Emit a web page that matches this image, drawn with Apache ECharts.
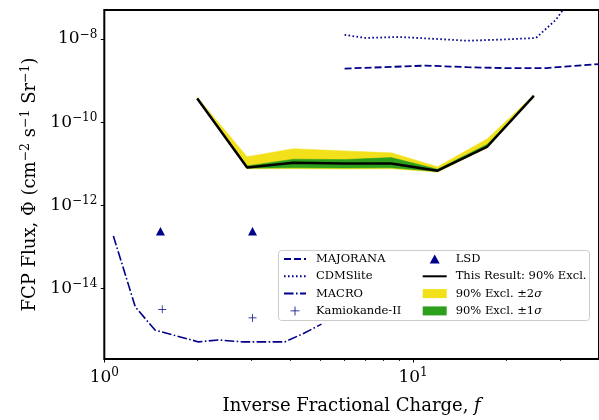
<!DOCTYPE html>
<html><head><meta charset="utf-8">
<script src="https://cdn.jsdelivr.net/npm/echarts@6/dist/echarts.min.js"></script>
<style>html,body{margin:0;padding:0;background:#fff}#c{width:599px;height:420px}</style>
</head><body><div id="c"></div>
<script>
// ---- data ----
const resultX      = [2, 2.9, 4.1, 6, 8.5, 12, 17.4, 24.6];
const resultLimit  = [3.7e-10, 8.1e-12, 1.06e-11, 1.02e-11, 1.02e-11, 6.8e-12, 2.6e-11, 4.3e-10];
const band2Hi      = [4.0e-10, 1.48e-11, 2.31e-11, 2.04e-11, 1.83e-11, 8.5e-12, 4.0e-11, 4.5e-10];
const band2Lo      = [3.55e-10, 7.6e-12, 7.6e-12, 7.5e-12, 7.6e-12, 6.3e-12, 2.45e-11, 4.15e-10];
const band1Hi      = [3.8e-10, 8.9e-12, 1.29e-11, 1.26e-11, 1.41e-11, 7.4e-12, 2.95e-11, 4.4e-10];
const band1Lo      = [3.6e-10, 7.8e-12, 8.0e-12, 7.9e-12, 8.0e-12, 6.5e-12, 2.5e-11, 4.2e-10];
const majoranaX    = [6, 8, 11, 15, 20, 27, 40];
const majoranaY    = [1.95e-9, 2.1e-9, 2.3e-9, 2.1e-9, 2.0e-9, 2.0e-9, 2.5e-9];
const cdmsX        = [6, 7, 9, 12, 15, 20, 25, 29, 32];
const cdmsY        = [1.26e-8, 1.06e-8, 1.12e-8, 1.0e-8, 9.1e-9, 9.8e-9, 1.06e-8, 2.9e-8, 8e-8];
const macroX       = [1.07, 1.26, 1.46, 2.02, 2.34, 2.82, 3.84, 4.4, 5.05];
const macroY       = [1.83e-13, 3.6e-15, 1.0e-15, 5.2e-16, 5.8e-16, 5.2e-16, 5.2e-16, 8.2e-16, 1.39e-15];
const lsdX         = [1.52, 3.02];
const lsdY         = [2.4e-13, 2.4e-13];
const kamX         = [1.54, 3.02];
const kamY         = [3.16e-15, 1.96e-15];
const xMajorTicks  = [1, 10];
const xMinorTicks  = [2, 3, 4, 5, 6, 7, 8, 9, 20, 30];
const yTicks       = [1e-14, 1e-12, 1e-10, 1e-8];

const NAVY = '#00008b', YEL = '#f2e01b', GRN = '#2ca01c';
const FONT = 'DejaVu Serif';
const PLUS = 'path://M4.55,0H5.45V4.55H10V5.45H5.45V10H4.55V5.45H0V4.55H4.55Z';
const TRI = 'path://M5,0L10,9L0,9Z';
const zip = (a, b) => a.map((v, i) => [v, b[i]]);

function bandSeries(name, lo, hi, color, z) {
  return {
    name, type: 'custom', z,
    itemStyle: { color },
    data: resultX.map((x, i) => [x, lo[i], hi[i]]),
    encode: { x: 0, y: [1, 2] },
    renderItem(params, api) {
      if (params.dataIndex !== 0) return null;
      const pts = [];
      for (let i = 0; i < resultX.length; i++) pts.push(api.coord([resultX[i], hi[i]]));
      for (let i = resultX.length - 1; i >= 0; i--) pts.push(api.coord([resultX[i], lo[i]]));
      return { type: 'polygon', shape: { points: pts }, style: { fill: color, stroke: color, lineWidth: 0.5 } };
    }
  };
}

function powLabel(v) {
  const e = Math.round(Math.log10(v));
  return '{b|10}{s|' + (e < 0 ? '\u2212' + (-e) : e) + '}';
}
const labelRich = {
  b: { fontFamily: FONT, fontSize: 17, color: '#000' },
  s: { fontFamily: FONT, fontSize: 12, color: '#000', padding: [0, 0, 9, 0] }
};

const xMin = 1, xMax = 40;
const yMin = Math.pow(10, -15.695), yMax = Math.pow(10, -7.302);
const noSym = { itemStyle: { opacity: 0 } };

const chart = echarts.init(document.getElementById('c'), null, { renderer: 'canvas' });
chart.setOption({
  animation: false,
  backgroundColor: '#fff',
  grid: { left: 104.3, right: -1.1, top: 10, bottom: 57.5, show: true, borderColor: '#000', borderWidth: 2, backgroundColor: 'transparent' },
  xAxis: [{
    type: 'log', logBase: 10, min: xMin, max: xMax,
    name: 'Inverse Fractional Charge, {i|f}', nameLocation: 'middle', nameGap: 38,
    nameTextStyle: { fontFamily: FONT, fontSize: 18, color: '#000', rich: { i: { fontFamily: FONT, fontSize: 18, fontStyle: 'italic', color: '#000' } } },
    axisLine: { show: false },
    axisTick: { show: true, inside: false, length: 3.5, lineStyle: { color: '#000', width: 1 }, customValues: xMajorTicks },
    axisLabel: { show: true, margin: 8, formatter: powLabel, rich: labelRich, customValues: xMajorTicks },
    splitLine: { show: false }, minorTick: { show: false }
  }, {
    type: 'log', logBase: 10, min: xMin, max: xMax, position: 'bottom',
    axisLine: { show: false },
    axisTick: { show: true, inside: false, length: 2, lineStyle: { color: '#000', width: 0.8 }, customValues: xMinorTicks },
    axisLabel: { show: false },
    splitLine: { show: false }
  }],
  yAxis: {
    type: 'log', logBase: 10, min: yMin, max: yMax,
    name: '{a|FCP Flux, \u03a6 (cm}{s|\u22122}{a| s}{s|\u22121}{a| Sr}{s|\u22121}{a|)}',
    nameLocation: 'middle', nameGap: 56, nameRotate: 90,
    nameTextStyle: { rich: {
      a: { fontFamily: FONT, fontSize: 18, color: '#000' },
      s: { fontFamily: FONT, fontSize: 12.5, color: '#000', padding: [0, 0, 9, 0] }
    } },
    axisLine: { show: false },
    axisTick: { show: true, inside: false, length: 3.5, lineStyle: { color: '#000', width: 1 }, customValues: yTicks },
    axisLabel: { show: true, margin: 7, formatter: powLabel, rich: labelRich, customValues: yTicks },
    splitLine: { show: false }
  },
  graphic: [{
    type: 'rect', z: 3, shape: { x: 278.5, y: 250.5, width: 311, height: 70, r: 3 },
    style: { fill: 'rgba(255,255,255,0.8)', stroke: '#cccccc', lineWidth: 1 }
  }],
  legend: [{
    z: 5, orient: 'vertical', left: 283, top: 252, padding: 0, itemWidth: 22, itemHeight: 9, itemGap: 3.3,
    textStyle: { fontFamily: FONT, fontSize: 11.5, color: '#000', lineHeight: 14, padding: [0, 0, 0, 5] },
    data: [
      Object.assign({ name: 'MAJORANA' }, noSym),
      Object.assign({ name: 'CDMSlite' }, noSym),
      Object.assign({ name: 'MACRO' }, noSym),
      { name: 'Kamiokande-II', icon: PLUS }
    ]
  }, {
    z: 5, orient: 'vertical', left: 421.7, top: 252, padding: 0, itemWidth: 24, itemHeight: 9, itemGap: 3.3,
    textStyle: { fontFamily: FONT, fontSize: 11.5, color: '#000', lineHeight: 14, padding: [0, 0, 0, 4],
      rich: { i: { fontFamily: FONT, fontSize: 11.5, fontStyle: 'italic', color: '#000' } } },
    formatter(n) { return n.replace('\u03c3', '{i|\u03c3}'); },
    data: [
      { name: 'LSD', icon: TRI },
      Object.assign({ name: 'This Result: 90% Excl.' }, noSym),
      { name: '90% Excl. \u00b12\u03c3', icon: 'rect' }, { name: '90% Excl. \u00b11\u03c3', icon: 'rect' }
    ]
  }],
  series: [
    bandSeries('90% Excl. \u00b12\u03c3', band2Lo, band2Hi, YEL, 2),
    bandSeries('90% Excl. \u00b11\u03c3', band1Lo, band1Hi, GRN, 2.1),
    { name: 'This Result: 90% Excl.', type: 'line', z: 2.5, data: zip(resultX, resultLimit), symbol: 'none',
      lineStyle: { color: '#000', width: 2.5 }, itemStyle: { color: '#000' } },
    { name: 'MAJORANA', type: 'line', data: zip(majoranaX, majoranaY), symbol: 'none',
      lineStyle: { color: NAVY, width: 1.8, type: [7, 3] }, itemStyle: { color: NAVY } },
    { name: 'CDMSlite', type: 'line', data: zip(cdmsX, cdmsY), symbol: 'none',
      lineStyle: { color: NAVY, width: 1.8, type: [1.6, 2.4] }, itemStyle: { color: NAVY } },
    { name: 'MACRO', type: 'line', data: zip(macroX, macroY), symbol: 'none',
      lineStyle: { color: NAVY, width: 1.6, type: [9.6, 2.4, 1.6, 2.4] }, itemStyle: { color: NAVY } },
    { name: 'LSD', type: 'scatter', data: zip(lsdX, lsdY), symbol: TRI, symbolSize: [9, 8.5],
      itemStyle: { color: NAVY, opacity: 1 } },
    { name: 'Kamiokande-II', type: 'scatter', data: zip(kamX, kamY),
      symbol: PLUS, symbolSize: 8,
      itemStyle: { color: NAVY, opacity: 1 } }
  ]
});
</script></body></html>
